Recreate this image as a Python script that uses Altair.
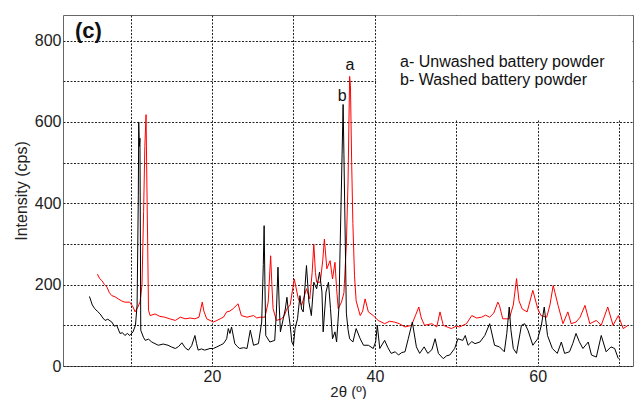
import altair as alt
import pandas as pd

# Washed battery powder (b, black)
washed_x = [4.95, 5.3, 5.6, 5.9, 6.26, 6.6, 6.87, 7.2, 7.7, 8.0, 8.3, 8.7, 9.0, 9.3, 9.6, 9.9,
            10.3, 10.6, 10.8, 10.95, 11.0, 11.08, 11.15, 11.25, 11.57, 11.8, 12.2, 12.6, 13.0,
            13.4, 14.0, 14.6, 15.0, 15.5, 15.9, 16.3, 16.7, 17.1, 17.5, 17.9, 18.1, 18.3, 18.7,
            19.1, 19.75, 20.16, 20.6, 21.0, 21.4, 21.8, 22.0, 22.2, 22.4, 22.8, 23.1, 23.4, 23.9,
            24.3, 24.7, 25.1, 25.7, 26.1, 26.3, 26.4, 26.5, 26.6, 27.1, 27.7, 27.9, 28.1, 28.25,
            28.4, 28.75, 29.0, 29.2, 29.4, 29.6, 29.8, 30.0, 30.2, 30.5, 30.8, 31.0, 31.2, 31.6,
            31.9, 32.2, 32.5, 32.85, 33.2, 33.5, 33.65, 34.0, 34.3, 34.55, 34.8, 35.1, 35.3, 35.6,
            35.7, 35.9, 36.1, 36.2, 36.4, 36.5, 36.7, 36.9, 37.3, 37.7, 38.2, 38.6, 39.2, 39.8,
            40.1, 40.3, 40.6, 41.2, 41.6, 42.0, 42.5, 42.9, 43.3, 43.7, 44.1, 44.6, 45.1, 45.5,
            46.05, 46.5, 47.0, 47.4, 47.8, 48.4, 48.8, 49.2, 49.8, 50.2, 50.8, 51.1, 51.45, 51.9,
            52.3, 52.9, 53.5, 54.1, 54.7, 55.3, 55.9, 56.2, 56.5, 56.7, 57.0, 57.4, 58.0, 58.4,
            58.8, 59.4, 60.0, 60.45, 60.8, 61.2, 61.8, 62.4, 62.9, 63.3, 63.9, 64.3, 64.7, 65.1,
            65.55, 66.2, 66.6, 67.2, 67.8, 68.4, 69.0, 69.45, 69.9]
washed_y = [171, 150, 141, 135, 128, 118, 112, 115, 108, 98, 100, 80, 82, 75, 80, 75,
            84, 100, 150, 420, 600, 540, 560, 88, 71, 63, 66, 59, 55,
            51, 54, 51, 47, 43, 48, 57, 45, 39, 50, 75, 55, 39, 42,
            39, 43, 43, 47, 51, 55, 67, 92, 80, 96, 55, 48, 43, 45,
            43, 88, 51, 55, 108, 250, 345, 200, 75, 59, 63, 130, 243, 150,
            84, 116, 140, 169, 130, 100, 59, 51, 92, 116, 173, 140, 133, 247,
            157, 124, 206, 190, 231, 182, 84, 182, 206, 141, 67, 84, 59, 149,
            261, 450, 643, 520, 261, 130, 90, 67, 59, 92, 67, 51, 51, 43,
            60, 100, 43, 63, 45, 31, 35, 27, 33, 35, 67, 108, 47, 31,
            47, 31, 40, 67, 31, 18, 25, 27, 43, 67, 63, 75, 51, 60,
            55, 59, 75, 104, 51, 47, 35, 80, 145, 90, 43, 31, 100, 104,
            88, 51, 67, 100, 145, 75, 43, 31, 59, 31, 35, 55, 80, 60,
            43, 59, 27, 22, 75, 35, 47, 43, 18]

# Unwashed battery powder (a, red)
unwashed_x = [5.93, 6.2, 6.47, 6.8, 7.1, 7.4, 7.7, 8.1, 8.5, 8.9, 9.3, 9.9, 10.3, 10.55, 10.9,
              11.17, 11.4, 11.6, 11.75, 11.9, 12.0, 12.1, 12.2, 12.4, 13.0, 13.6, 14.2, 14.8,
              15.5, 16.1, 16.7, 17.3, 17.9, 18.4, 18.8, 19.0, 19.35, 20.16, 20.6, 21.0, 21.4,
              21.8, 22.2, 22.6, 23.2, 23.6, 24.3, 25.1, 25.5, 25.9, 26.5, 26.9, 27.2, 27.35,
              27.5, 27.9, 28.55, 28.9, 29.2, 29.6, 30.1, 30.6, 31.0, 31.6, 32.0, 32.3, 32.5,
              32.7, 32.85, 33.3, 33.6, 33.8, 34.1, 34.5, 34.8, 35.1, 35.3, 35.5, 35.9, 36.2,
              36.5, 36.7, 36.9, 37.0, 37.15, 37.3, 37.5, 37.7, 38.2, 38.5, 38.8, 39.2, 39.8,
              40.4, 41.2, 41.8, 42.4, 43.0, 43.7, 44.5, 45.0, 45.4, 45.7, 46.1, 47.0, 47.6,
              48.0, 48.4, 49.0, 49.4, 50.0, 50.4, 51.25, 51.9, 52.5, 53.1, 53.6, 54.1, 54.6,
              55.1, 55.3, 55.7, 56.5, 57.0, 57.4, 57.7, 58.1, 58.7, 59.4, 60.0, 60.4, 61.1,
              61.5, 61.9, 62.5, 63.1, 63.7, 64.1, 64.7, 65.2, 65.8, 66.4, 67.2, 67.8, 68.6,
              69.25, 69.9, 70.5, 71.1]
unwashed_y = [226, 215, 210, 200, 194, 180, 173, 170, 165, 160, 157, 157, 145, 133, 145,
              158, 200, 380, 540, 618, 450, 300, 137, 124, 128, 122, 120, 116,
              112, 120, 116, 118, 116, 120, 157, 135, 116, 108, 112, 116, 120,
              133, 135, 141, 153, 124, 120, 124, 118, 120, 120, 157, 271, 200,
              141, 112, 116, 125, 141, 150, 214, 165, 149, 190, 165, 230, 300,
              230, 206, 206, 260, 312, 239, 259, 214, 255, 190, 141, 157, 180,
              300, 450, 712, 690, 500, 350, 222, 160, 124, 135, 165, 133, 124,
              112, 104, 110, 108, 104, 96, 100, 125, 145, 118, 100, 104, 96,
              133, 100, 95, 92, 98, 96, 104, 124, 118, 120, 125, 120, 130,
              157, 149, 116, 116, 150, 215, 160, 140, 133, 186, 141, 124, 120,
              150, 198, 149, 104, 133, 104, 108, 120, 149, 104, 112, 100, 145,
              100, 124, 92, 100]

series_names = ["Unwashed", "Washed"]
series_colors = ["#ff0000", "#000000"]

legend_lines = ["a- Unwashed battery powder", "b- Washed battery powder"]
# legend background box (data units): covers grid behind the legend text
legend_box_x = [40.15, 71.6]
legend_box_y = [607, 861]

peak_labels = ["a", "b"]
peak_label_x = [36.95, 36.0]
peak_label_y = [740, 665]

x_grid = [10, 20, 30, 40, 50, 60, 70]
y_grid = [0, 100, 200, 300, 400, 500, 600, 700, 800]

df = pd.concat([
    pd.DataFrame({"x": unwashed_x, "y": unwashed_y, "s": series_names[0]}),
    pd.DataFrame({"x": washed_x, "y": washed_y, "s": series_names[1]}),
])

FONT = "Liberation Sans"

xscale = alt.Scale(domain=[1.7, 71.7], nice=False, zero=False)
yscale = alt.Scale(domain=[0, 863], nice=False)

box = alt.Chart(pd.DataFrame({"x": [legend_box_x[0]], "x2": [legend_box_x[1]],
                              "y": [legend_box_y[0]], "y2": [legend_box_y[1]]})).mark_rect(
    color="white", opacity=1
).encode(
    x=alt.X("x:Q", scale=xscale,
            axis=alt.Axis(values=x_grid, title="2θ (º)",
                          labelExpr="datum.value % 20 == 0 ? datum.label : ''")),
    x2="x2:Q",
    y=alt.Y("y:Q", scale=yscale,
            axis=alt.Axis(values=y_grid, title="Intensity (cps)",
                          labelExpr="datum.value % 200 == 0 ? datum.label : ''")),
    y2="y2:Q",
)

lines = alt.Chart(df).mark_line(strokeWidth=1, interpolate="linear").encode(
    x=alt.X("x:Q", scale=xscale),
    y=alt.Y("y:Q", scale=yscale),
    color=alt.Color("s:N", scale=alt.Scale(domain=series_names, range=series_colors), legend=None),
    detail="s:N",
)

peaks = alt.Chart(pd.DataFrame({"t": peak_labels, "x": peak_label_x, "y": peak_label_y})).mark_text(
    fontSize=16, font=FONT, color="#111", baseline="middle", align="center"
).encode(x=alt.X("x:Q", scale=xscale), y=alt.Y("y:Q", scale=yscale), text="t:N")

leg1 = alt.Chart(alt.Data(values=[{"t": legend_lines[0]}])).mark_text(
    fontSize=16, font=FONT, color="#111", align="left", baseline="alphabetic"
).encode(x=alt.value(337), y=alt.value(52), text="t:N")
leg2 = alt.Chart(alt.Data(values=[{"t": legend_lines[1]}])).mark_text(
    fontSize=16, font=FONT, color="#111", align="left", baseline="alphabetic"
).encode(x=alt.value(337), y=alt.value(70), text="t:N")

panel = alt.Chart(alt.Data(values=[{"t": "(c)"}])).mark_text(
    fontSize=22, font=FONT, fontWeight="bold", color="#111", align="left", baseline="alphabetic"
).encode(x=alt.value(12), y=alt.value(23), text="t:N")

chart = alt.layer(box, lines, peaks, leg1, leg2, panel).properties(
    width=570, height=351,
    autosize=alt.AutoSizeParams(type="none"),
    padding={"left": 63, "top": 15, "right": 10, "bottom": 33},
    background="white",
).configure_view(
    stroke="#666", strokeWidth=1
).configure_axis(
    grid=True, gridColor="#222", gridDash=[2, 1.5], gridWidth=1, gridOpacity=1,
    ticks=False, domain=False,
    labelFont=FONT, labelFontSize=16, labelColor="#222",
    titleFont=FONT, titleFontSize=16, titleFontWeight="normal", titleColor="#222",
    labelPadding=2,
).configure_axisY(titlePadding=5).configure_axisX(titlePadding=0, titleFontSize=15)

chart.save("out.html", embed_options={"renderer": "svg", "actions": False})
